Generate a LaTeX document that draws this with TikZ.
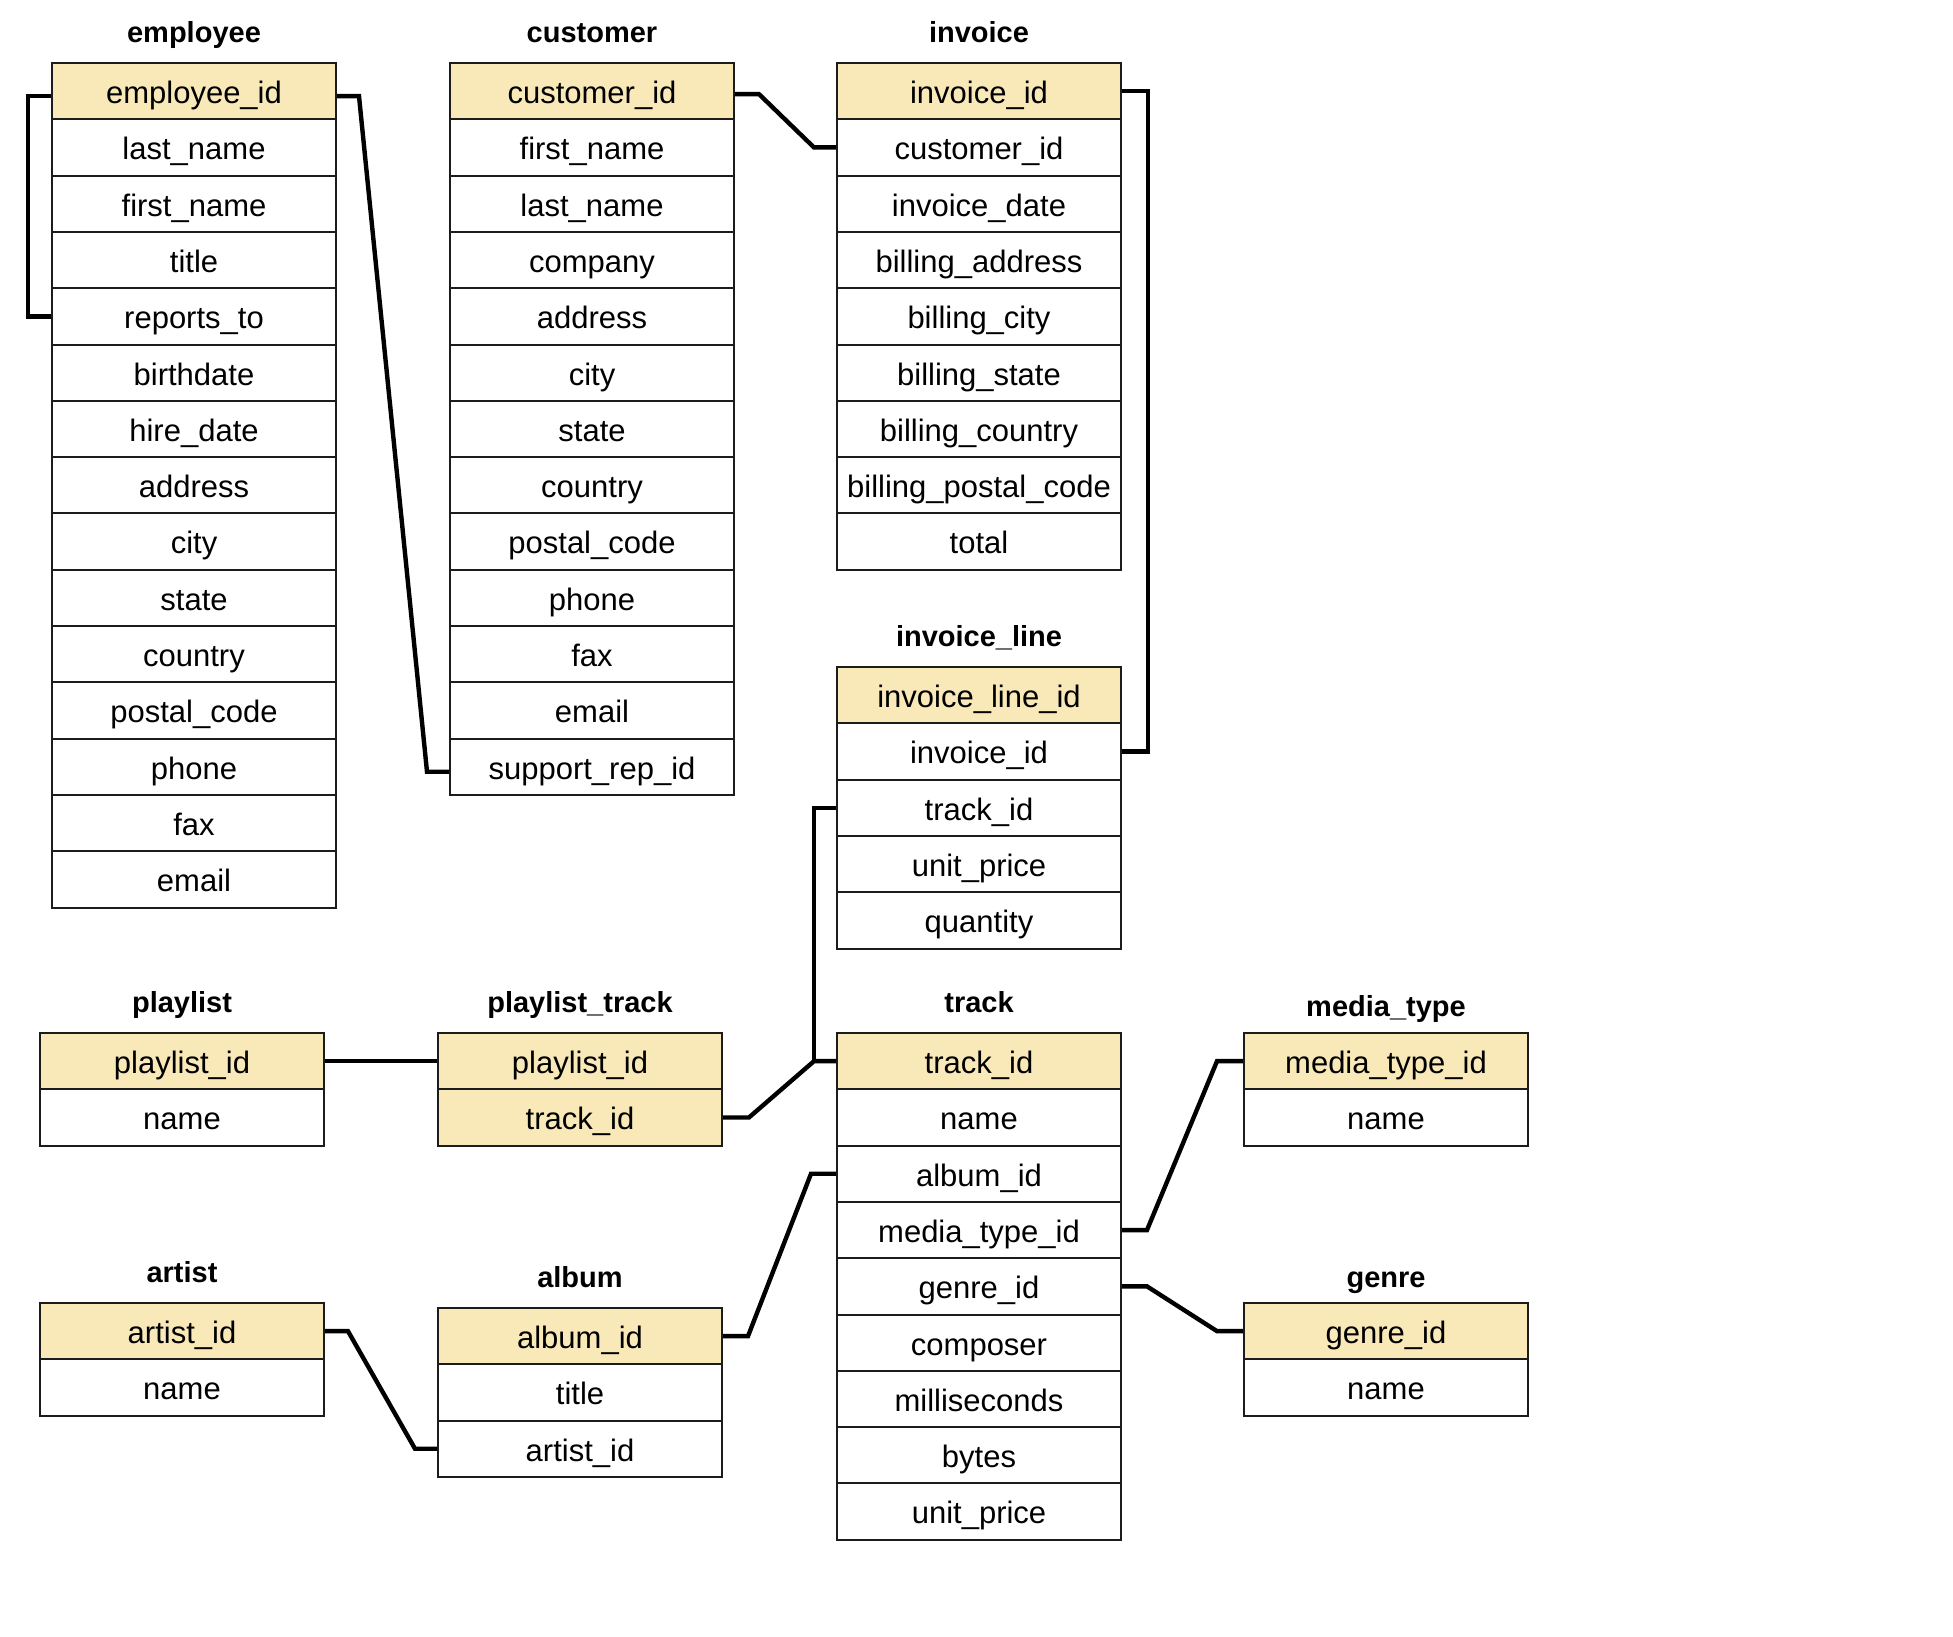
\documentclass[tikz,border=0pt]{standalone}
\usepackage{fontspec}
\setmainfont{Liberation Sans}
\definecolor{keyfill}{RGB}{249,233,184}
\definecolor{rulecol}{RGB}{28,28,28}

% One table: #1 name prefix, #2 left x, #3 top y, #4 title baseline y,
% #5 title text, #6 rows as style/text pairs
\newcommand\erdtable[6]{%
  \node[tabletitle] (#1-title) at (#2+142,#4) {#5};
  \foreach \sty/\fld [count=\i] in {#6}
    \node[\sty] (#1-\i) at (#2+142,#3+\i*56.3-28.15) {\fld};
}

\begin{document}
\begin{tikzpicture}[x=0.5pt,y=-0.5pt,
  field/.style={draw=rulecol, line width=1pt, fill=white,
    minimum width=142pt, minimum height=28.15pt, inner sep=0pt,
    text height=12.4pt, text depth=0pt,
    font=\fontsize{15.5}{18}\selectfont, text=black},
  keyfield/.style={field, fill=keyfill},
  tabletitle/.style={anchor=base, inner sep=0pt,
    font=\fontsize{14.5}{17}\selectfont\bfseries},
  link/.style={line width=2.2pt, line join=miter, draw=black}]
\useasboundingbox (0,0) rectangle (1953,1637);

\erdtable{emp}{52}{63}{43}{employee}{keyfield/employee\_id, field/last\_name,
  field/first\_name, field/title, field/reports\_to, field/birthdate,
  field/hire\_date, field/address, field/city, field/state, field/country,
  field/postal\_code, field/phone, field/fax, field/email}

\erdtable{cust}{450}{63}{43}{customer}{keyfield/customer\_id, field/first\_name,
  field/last\_name, field/company, field/address, field/city, field/state,
  field/country, field/postal\_code, field/phone, field/fax, field/email,
  field/support\_rep\_id}

\erdtable{inv}{837}{63}{43}{invoice}{keyfield/invoice\_id, field/customer\_id,
  field/invoice\_date, field/billing\_address, field/billing\_city,
  field/billing\_state, field/billing\_country, field/billing\_postal\_code,
  field/total}

\erdtable{il}{837}{667}{646}{invoice\_line}{keyfield/invoice\_line\_id,
  field/invoice\_id, field/track\_id, field/unit\_price, field/quantity}

\erdtable{pl}{40}{1033}{1012}{playlist}{keyfield/playlist\_id, field/name}

\erdtable{pt}{438}{1033}{1012}{playlist\_track}{keyfield/playlist\_id,
  keyfield/track\_id}

\erdtable{trk}{837}{1033}{1012}{track}{keyfield/track\_id, field/name,
  field/album\_id, field/media\_type\_id, field/genre\_id, field/composer,
  field/milliseconds, field/bytes, field/unit\_price}

\erdtable{mt}{1244}{1033}{1016}{media\_type}{keyfield/media\_type\_id, field/name}

\erdtable{ar}{40}{1303}{1282}{artist}{keyfield/artist\_id, field/name}

\erdtable{al}{438}{1308}{1287}{album}{keyfield/album\_id, field/title,
  field/artist\_id}

\erdtable{gn}{1244}{1303}{1287}{genre}{keyfield/genre\_id, field/name}

% relationships
\draw[link] ([yshift=-2.5pt]emp-1.west) -- ++(-23,0) |- (emp-5.west);
\draw[link] ([yshift=-2.5pt]emp-1.east) -- ++(22,0)
  -- ([xshift=-11pt,yshift=-2.5pt]cust-13.west) -- ([yshift=-2.5pt]cust-13.west);
\draw[link] ([yshift=-1.5pt]cust-1.east) -- ++(24,0)
  -- ([xshift=-11pt]inv-2.west) -- (inv-2.west);
\draw[link] (inv-1.east) -- ++(26,0) |- (il-2.east);
\draw[link] (il-3.west) -- ++(-22,0) |- (trk-1.west);
\draw[link] (pt-2.east) -- ++(26,0) -- ([xshift=-11pt]trk-1.west) -- (trk-1.west);
\draw[link] (pl-1.east) -- (pt-1.west);
\draw[link] (ar-1.east) -- ++(23,0) -- ([xshift=-11pt]al-3.west) -- (al-3.west);
\draw[link] (al-1.east) -- ++(25,0) -- ([xshift=-12.5pt]trk-3.west) -- (trk-3.west);
\draw[link] (trk-4.east) -- ++(25,0) -- ([xshift=-13pt]mt-1.west) -- (mt-1.west);
\draw[link] (trk-5.east) -- ++(25,0) -- ([xshift=-13pt]gn-1.west) -- (gn-1.west);
\end{tikzpicture}
\end{document}
